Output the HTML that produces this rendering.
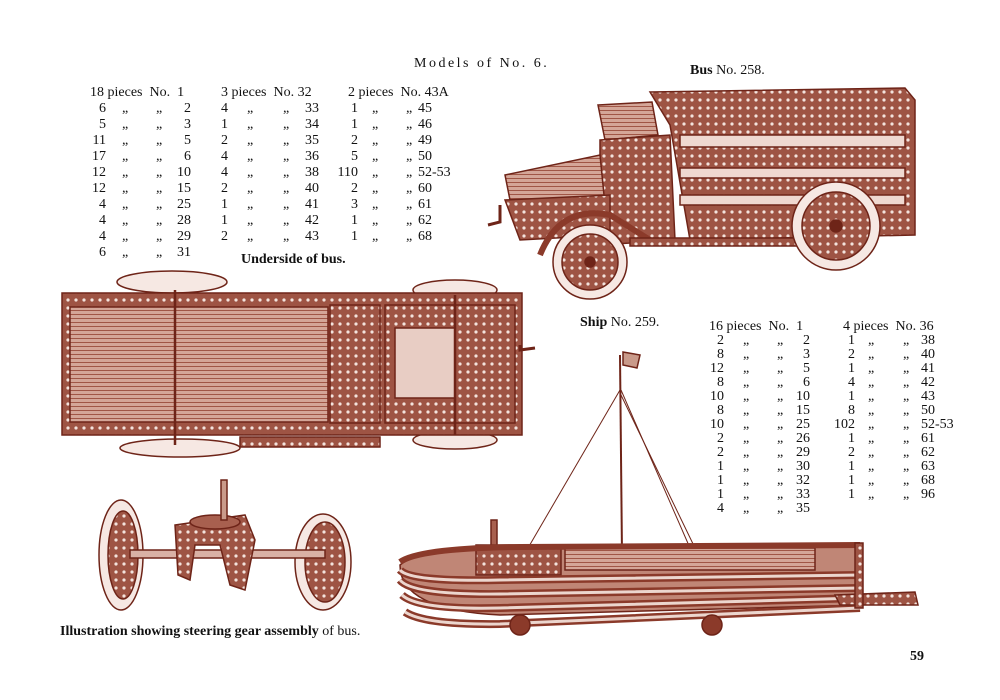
<!DOCTYPE html>
<html><head><meta charset="utf-8"><style>
*{margin:0;padding:0}
body{width:1000px;height:700px;background:#fff;position:relative;overflow:hidden;font-family:"Liberation Serif",serif;color:#111}
.t{position:absolute;font-size:14px;line-height:16px;white-space:nowrap}
.r{position:absolute;font-size:14px;line-height:16px;white-space:nowrap;width:1px}
.r span{position:absolute;top:0}
.ra{text-align:right;width:40px}
.b{font-weight:bold}
svg{position:absolute;left:0;top:0}
</style></head><body>
<svg width="1000" height="700" viewBox="0 0 1000 700">
<defs>
<pattern id="holes" width="8" height="8" patternUnits="userSpaceOnUse"><rect width="8" height="8" fill="#9e5444"/><circle cx="4" cy="4" r="1.6" fill="#f3e3dd"/></pattern>
<pattern id="lines" width="4" height="4" patternUnits="userSpaceOnUse"><rect width="4" height="4" fill="#d4a698"/><rect y="2" width="4" height="1" fill="#a05646"/></pattern>
</defs>
<g stroke="#6e2418" stroke-width="1.5">
<!-- Bus -->
<polygon points="650,92 905,88 915,100 915,235 690,240 670,125" fill="url(#holes)"/>
<rect x="680" y="135" width="225" height="12" fill="#efd8d0"/>
<rect x="680" y="168" width="225" height="10" fill="#efd8d0"/>
<rect x="680" y="195" width="225" height="10" fill="#efd8d0"/>
<polygon points="598,105 652,102 658,135 605,140" fill="url(#lines)"/>
<polygon points="600,140 670,135 675,240 600,245" fill="url(#holes)"/>
<polygon points="505,175 600,155 605,205 510,200" fill="url(#lines)"/>
<polygon points="505,200 610,195 610,235 520,240" fill="url(#holes)"/>
<path d="M540,255 Q560,205 610,215 L650,240" fill="none" stroke-width="6" stroke="#8b3a2a"/>
<rect x="630" y="238" width="175" height="8" fill="url(#holes)"/>
<circle cx="590" cy="262" r="37" fill="#f6e8e3"/><circle cx="590" cy="262" r="28" fill="url(#holes)"/><circle cx="590" cy="262" r="5" fill="#6e2418"/>
<circle cx="836" cy="226" r="44" fill="#f6e8e3"/><circle cx="836" cy="226" r="34" fill="url(#holes)"/><circle cx="836" cy="226" r="6" fill="#6e2418"/>
<path d="M488,225 L500,222 L500,205" fill="none" stroke-width="3"/>
<!-- Underside -->
<ellipse cx="172" cy="282" rx="55" ry="11" fill="#f6e8e3"/>
<ellipse cx="455" cy="290" rx="42" ry="10" fill="#f6e8e3"/>
<ellipse cx="180" cy="448" rx="60" ry="9" fill="#f6e8e3"/>
<ellipse cx="455" cy="440" rx="42" ry="9" fill="#f6e8e3"/>
<rect x="62" y="293" width="460" height="142" fill="url(#holes)"/>
<rect x="70" y="307" width="258" height="115" fill="url(#lines)"/>
<rect x="330" y="305" width="50" height="118" fill="url(#holes)"/>
<rect x="385" y="305" width="130" height="118" fill="url(#holes)"/>
<rect x="395" y="328" width="60" height="70" fill="#e8cdc4"/>
<line x1="175" y1="290" x2="175" y2="445" stroke-width="2.5"/>
<line x1="455" y1="295" x2="455" y2="435" stroke-width="2.5"/>
<rect x="240" y="437" width="140" height="10" fill="url(#holes)"/>
<path d="M520,345 L520,350 L535,348" fill="none" stroke-width="3"/>
<!-- Steering -->
<ellipse cx="121" cy="555" rx="22" ry="55" fill="#f6e8e3"/><ellipse cx="123" cy="555" rx="15" ry="44" fill="url(#holes)"/>
<ellipse cx="323" cy="562" rx="28" ry="48" fill="#f6e8e3"/><ellipse cx="325" cy="562" rx="20" ry="40" fill="url(#holes)"/>
<rect x="130" y="550" width="195" height="8" fill="#d9b1a5"/>
<polygon points="175,525 245,515 255,540 245,590 230,585 220,545 195,545 190,580 178,575" fill="url(#holes)"/>
<ellipse cx="215" cy="522" rx="25" ry="7" fill="#a8604f"/>
<rect x="221" y="480" width="6" height="40" fill="#c99a8a"/>
<!-- Ship -->
<line x1="620" y1="355" x2="622" y2="555" stroke-width="2"/>
<polygon points="623,352 640,355 637,368 623,365" fill="#c99a8a"/>
<line x1="620" y1="390" x2="528" y2="548" stroke-width="1"/>
<line x1="621" y1="390" x2="690" y2="548" stroke-width="1"/>
<line x1="621" y1="395" x2="695" y2="548" stroke-width="1"/>
<path d="M400,565 Q420,548 520,547 L860,545 L862,605 L500,615 Q400,610 400,565Z" fill="#c08676"/>
<rect x="476" y="545" width="85" height="30" fill="url(#holes)"/>
<rect x="491" y="520" width="6" height="25" fill="#a8604f"/>
<rect x="565" y="548" width="250" height="22" fill="url(#lines)"/>
<path d="M400,562 Q420,548 520,547 L860,545" fill="none" stroke="#8b3a2a" stroke-width="6"/>
<path d="M400,570 Q410,582 500,580 L860,575" fill="none" stroke="#8b3a2a" stroke-width="8"/>
<path d="M400,570 Q410,582 500,580 L860,575" fill="none" stroke="#ecd6ce" stroke-width="3"/>
<path d="M400,580 Q412,595 500,594 L860,588" fill="none" stroke="#8b3a2a" stroke-width="8"/>
<path d="M400,580 Q412,595 500,594 L860,588" fill="none" stroke="#ecd6ce" stroke-width="3"/>
<path d="M402,595 Q418,610 500,608 L860,598" fill="none" stroke="#8b3a2a" stroke-width="8"/>
<path d="M402,595 Q418,610 500,608 L860,598" fill="none" stroke="#ecd6ce" stroke-width="3"/>
<path d="M405,612 Q425,625 500,624 L860,608" fill="none" stroke="#8b3a2a" stroke-width="8"/>
<path d="M405,612 Q425,625 500,624 L860,608" fill="none" stroke="#ecd6ce" stroke-width="3"/>
<polygon points="835,595 915,592 918,605 840,605" fill="url(#holes)"/>
<rect x="855" y="543" width="8" height="65" fill="url(#holes)"/>
<circle cx="520" cy="625" r="10" fill="#8b3a2a"/><circle cx="712" cy="625" r="10" fill="#8b3a2a"/>
</g>
</svg>

<div class="t" style="left:414px;top:56px;letter-spacing:2.5px">Models of No. 6.</div>
<div class="t" style="left:690px;top:63px"><span class="b">Bus</span> No. 258.</div>
<div class="t b" style="left:241px;top:252px">Underside of bus.</div>
<div class="t" style="left:580px;top:315px"><span class="b">Ship</span> No. 259.</div>
<div class="t" style="left:60px;top:624px"><span class="b">Illustration showing steering gear assembly</span> of bus.</div>
<div class="t b" style="left:910px;top:649px">59</div>

<div class="t" style="left:90px;top:85px">18 pieces&nbsp; No.&nbsp; 1</div>
<div class="t" style="left:221px;top:85px">3 pieces&nbsp; No. 32</div>
<div class="t" style="left:348px;top:85px">2 pieces&nbsp; No. 43A</div>

<div class="r" style="left:0;top:101px"><span class="ra" style="left:66px">6</span><span style="left:122px">„</span><span style="left:156px">„</span><span class="ra" style="left:151px">2</span><span style="left:221px">4</span><span style="left:247px">„</span><span style="left:283px">„</span><span class="ra" style="left:279px">33</span><span class="ra" style="left:318px">1</span><span style="left:372px">„</span><span style="left:406px">„</span><span style="left:418px">45</span></div>
<div class="r" style="left:0;top:117px"><span class="ra" style="left:66px">5</span><span style="left:122px">„</span><span style="left:156px">„</span><span class="ra" style="left:151px">3</span><span style="left:221px">1</span><span style="left:247px">„</span><span style="left:283px">„</span><span class="ra" style="left:279px">34</span><span class="ra" style="left:318px">1</span><span style="left:372px">„</span><span style="left:406px">„</span><span style="left:418px">46</span></div>
<div class="r" style="left:0;top:133px"><span class="ra" style="left:66px">11</span><span style="left:122px">„</span><span style="left:156px">„</span><span class="ra" style="left:151px">5</span><span style="left:221px">2</span><span style="left:247px">„</span><span style="left:283px">„</span><span class="ra" style="left:279px">35</span><span class="ra" style="left:318px">2</span><span style="left:372px">„</span><span style="left:406px">„</span><span style="left:418px">49</span></div>
<div class="r" style="left:0;top:149px"><span class="ra" style="left:66px">17</span><span style="left:122px">„</span><span style="left:156px">„</span><span class="ra" style="left:151px">6</span><span style="left:221px">4</span><span style="left:247px">„</span><span style="left:283px">„</span><span class="ra" style="left:279px">36</span><span class="ra" style="left:318px">5</span><span style="left:372px">„</span><span style="left:406px">„</span><span style="left:418px">50</span></div>
<div class="r" style="left:0;top:165px"><span class="ra" style="left:66px">12</span><span style="left:122px">„</span><span style="left:156px">„</span><span class="ra" style="left:151px">10</span><span style="left:221px">4</span><span style="left:247px">„</span><span style="left:283px">„</span><span class="ra" style="left:279px">38</span><span class="ra" style="left:318px">110</span><span style="left:372px">„</span><span style="left:406px">„</span><span style="left:418px">52-53</span></div>
<div class="r" style="left:0;top:181px"><span class="ra" style="left:66px">12</span><span style="left:122px">„</span><span style="left:156px">„</span><span class="ra" style="left:151px">15</span><span style="left:221px">2</span><span style="left:247px">„</span><span style="left:283px">„</span><span class="ra" style="left:279px">40</span><span class="ra" style="left:318px">2</span><span style="left:372px">„</span><span style="left:406px">„</span><span style="left:418px">60</span></div>
<div class="r" style="left:0;top:197px"><span class="ra" style="left:66px">4</span><span style="left:122px">„</span><span style="left:156px">„</span><span class="ra" style="left:151px">25</span><span style="left:221px">1</span><span style="left:247px">„</span><span style="left:283px">„</span><span class="ra" style="left:279px">41</span><span class="ra" style="left:318px">3</span><span style="left:372px">„</span><span style="left:406px">„</span><span style="left:418px">61</span></div>
<div class="r" style="left:0;top:213px"><span class="ra" style="left:66px">4</span><span style="left:122px">„</span><span style="left:156px">„</span><span class="ra" style="left:151px">28</span><span style="left:221px">1</span><span style="left:247px">„</span><span style="left:283px">„</span><span class="ra" style="left:279px">42</span><span class="ra" style="left:318px">1</span><span style="left:372px">„</span><span style="left:406px">„</span><span style="left:418px">62</span></div>
<div class="r" style="left:0;top:229px"><span class="ra" style="left:66px">4</span><span style="left:122px">„</span><span style="left:156px">„</span><span class="ra" style="left:151px">29</span><span style="left:221px">2</span><span style="left:247px">„</span><span style="left:283px">„</span><span class="ra" style="left:279px">43</span><span class="ra" style="left:318px">1</span><span style="left:372px">„</span><span style="left:406px">„</span><span style="left:418px">68</span></div>
<div class="r" style="left:0;top:245px"><span class="ra" style="left:66px">6</span><span style="left:122px">„</span><span style="left:156px">„</span><span class="ra" style="left:151px">31</span></div>

<div class="t" style="left:709px;top:319px">16 pieces&nbsp; No.&nbsp; 1</div>
<div class="t" style="left:843px;top:319px">4 pieces&nbsp; No. 36</div>
<div class="r" style="left:0;top:333px"><span class="ra" style="left:684px">2</span><span style="left:743px">„</span><span style="left:777px">„</span><span class="ra" style="left:770px">2</span><span class="ra" style="left:815px">1</span><span style="left:868px">„</span><span style="left:903px">„</span><span style="left:921px">38</span></div>
<div class="r" style="left:0;top:347px"><span class="ra" style="left:684px">8</span><span style="left:743px">„</span><span style="left:777px">„</span><span class="ra" style="left:770px">3</span><span class="ra" style="left:815px">2</span><span style="left:868px">„</span><span style="left:903px">„</span><span style="left:921px">40</span></div>
<div class="r" style="left:0;top:361px"><span class="ra" style="left:684px">12</span><span style="left:743px">„</span><span style="left:777px">„</span><span class="ra" style="left:770px">5</span><span class="ra" style="left:815px">1</span><span style="left:868px">„</span><span style="left:903px">„</span><span style="left:921px">41</span></div>
<div class="r" style="left:0;top:375px"><span class="ra" style="left:684px">8</span><span style="left:743px">„</span><span style="left:777px">„</span><span class="ra" style="left:770px">6</span><span class="ra" style="left:815px">4</span><span style="left:868px">„</span><span style="left:903px">„</span><span style="left:921px">42</span></div>
<div class="r" style="left:0;top:389px"><span class="ra" style="left:684px">10</span><span style="left:743px">„</span><span style="left:777px">„</span><span class="ra" style="left:770px">10</span><span class="ra" style="left:815px">1</span><span style="left:868px">„</span><span style="left:903px">„</span><span style="left:921px">43</span></div>
<div class="r" style="left:0;top:403px"><span class="ra" style="left:684px">8</span><span style="left:743px">„</span><span style="left:777px">„</span><span class="ra" style="left:770px">15</span><span class="ra" style="left:815px">8</span><span style="left:868px">„</span><span style="left:903px">„</span><span style="left:921px">50</span></div>
<div class="r" style="left:0;top:417px"><span class="ra" style="left:684px">10</span><span style="left:743px">„</span><span style="left:777px">„</span><span class="ra" style="left:770px">25</span><span class="ra" style="left:815px">102</span><span style="left:868px">„</span><span style="left:903px">„</span><span style="left:921px">52-53</span></div>
<div class="r" style="left:0;top:431px"><span class="ra" style="left:684px">2</span><span style="left:743px">„</span><span style="left:777px">„</span><span class="ra" style="left:770px">26</span><span class="ra" style="left:815px">1</span><span style="left:868px">„</span><span style="left:903px">„</span><span style="left:921px">61</span></div>
<div class="r" style="left:0;top:445px"><span class="ra" style="left:684px">2</span><span style="left:743px">„</span><span style="left:777px">„</span><span class="ra" style="left:770px">29</span><span class="ra" style="left:815px">2</span><span style="left:868px">„</span><span style="left:903px">„</span><span style="left:921px">62</span></div>
<div class="r" style="left:0;top:459px"><span class="ra" style="left:684px">1</span><span style="left:743px">„</span><span style="left:777px">„</span><span class="ra" style="left:770px">30</span><span class="ra" style="left:815px">1</span><span style="left:868px">„</span><span style="left:903px">„</span><span style="left:921px">63</span></div>
<div class="r" style="left:0;top:473px"><span class="ra" style="left:684px">1</span><span style="left:743px">„</span><span style="left:777px">„</span><span class="ra" style="left:770px">32</span><span class="ra" style="left:815px">1</span><span style="left:868px">„</span><span style="left:903px">„</span><span style="left:921px">68</span></div>
<div class="r" style="left:0;top:487px"><span class="ra" style="left:684px">1</span><span style="left:743px">„</span><span style="left:777px">„</span><span class="ra" style="left:770px">33</span><span class="ra" style="left:815px">1</span><span style="left:868px">„</span><span style="left:903px">„</span><span style="left:921px">96</span></div>
<div class="r" style="left:0;top:501px"><span class="ra" style="left:684px">4</span><span style="left:743px">„</span><span style="left:777px">„</span><span class="ra" style="left:770px">35</span></div>
</body></html>
